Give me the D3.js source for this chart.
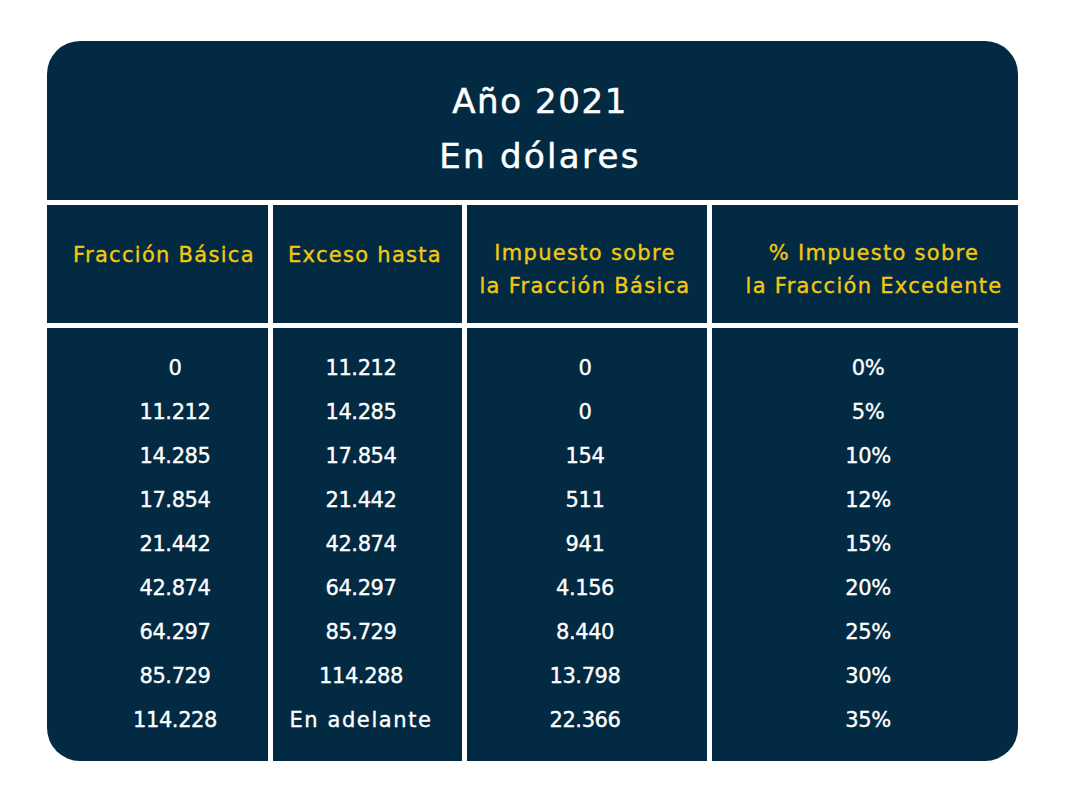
<!DOCTYPE html>
<html><head><meta charset="utf-8">
<script src="https://cdn.jsdelivr.net/npm/d3@7"></script>
<style>html,body{margin:0;padding:0;background:#fff;}svg{display:block;}</style>
</head><body>
<script>
const titleLines = ["Año 2021", "En dólares"];
const headers = [["Fracción Básica"], ["Exceso hasta"], ["Impuesto sobre", "la Fracción Básica"], ["% Impuesto sobre", "la Fracción Excedente"]];
const fraccionBasica = ["0", "11.212", "14.285", "17.854", "21.442", "42.874", "64.297", "85.729", "114.228"];
const excesoHasta = ["11.212", "14.285", "17.854", "21.442", "42.874", "64.297", "85.729", "114.288", "En adelante"];
const impuestoFraccionBasica = ["0", "0", "154", "511", "941", "4.156", "8.440", "13.798", "22.366"];
const pctFraccionExcedente = ["0%", "5%", "10%", "12%", "15%", "20%", "25%", "30%", "35%"];

(function () {
const W = 1080, H = 785;
const FONT = "'DejaVu Sans', sans-serif";
const bg = "#022b43", yellow = "#f2c80f";
const svg = d3.select("body").append("svg").attr("width", W).attr("height", H);
svg.append("rect").attr("width", W).attr("height", H).attr("fill", "#fff");

const x0 = 47, x1 = 1018, y0 = 41, y1 = 761;
svg.append("rect").attr("x", x0).attr("y", y0).attr("width", x1 - x0).attr("height", y1 - y0)
  .attr("rx", 33).attr("fill", bg);

svg.selectAll("text.title").data(titleLines).join("text").attr("class", "title")
  .attr("x", 540).attr("y", (d, i) => 101 + i * 55).attr("dy", "0.36em")
  .attr("text-anchor", "middle").attr("font-family", FONT).attr("font-size", 34)
  .attr("letter-spacing", (d, i) => i === 0 ? 1.6 : 2.3).attr("fill", "#fff")
  .attr("stroke", "#fff").attr("stroke-width", 0.5).text(d => d);

const lw = 5;
[200, 323].forEach(yy => svg.append("rect").attr("x", x0).attr("y", yy).attr("width", x1 - x0).attr("height", lw).attr("fill", "#fff"));
[268, 462, 707].forEach(xx => svg.append("rect").attr("x", xx).attr("y", 205).attr("width", lw).attr("height", y1 - 205).attr("fill", "#fff"));

const headerX = [164, 365, 585, 874];
const dataX = [175, 361, 585, 868];
headers.forEach((lines, c) => {
  const ys = lines.length === 1 ? [254] : [252, 285];
  lines.forEach((t, j) => svg.append("text").attr("x", headerX[c]).attr("y", ys[j]).attr("dy", "0.36em")
    .attr("text-anchor", "middle").attr("font-family", FONT).attr("font-size", 21).attr("letter-spacing", 1.3)
    .attr("fill", yellow).attr("stroke", yellow).attr("stroke-width", 0.35).text(t));
});

const cols = [fraccionBasica, excesoHasta, impuestoFraccionBasica, pctFraccionExcedente];
const y = d3.scalePoint().domain(d3.range(fraccionBasica.length)).range([367, 719]);
cols.forEach((col, c) => {
  svg.append("g").selectAll("text").data(col).join("text")
    .attr("x", dataX[c]).attr("y", (d, i) => y(i)).attr("dy", "0.36em")
    .attr("text-anchor", "middle").attr("font-family", FONT).attr("font-size", 21)
    .attr("letter-spacing", d => /[a-z]/i.test(d) ? 1.6 : -0.4)
    .attr("fill", "#fff").attr("stroke", "#fff").attr("stroke-width", 0.35).text(d => d);
});
})();
</script>
</body></html>
